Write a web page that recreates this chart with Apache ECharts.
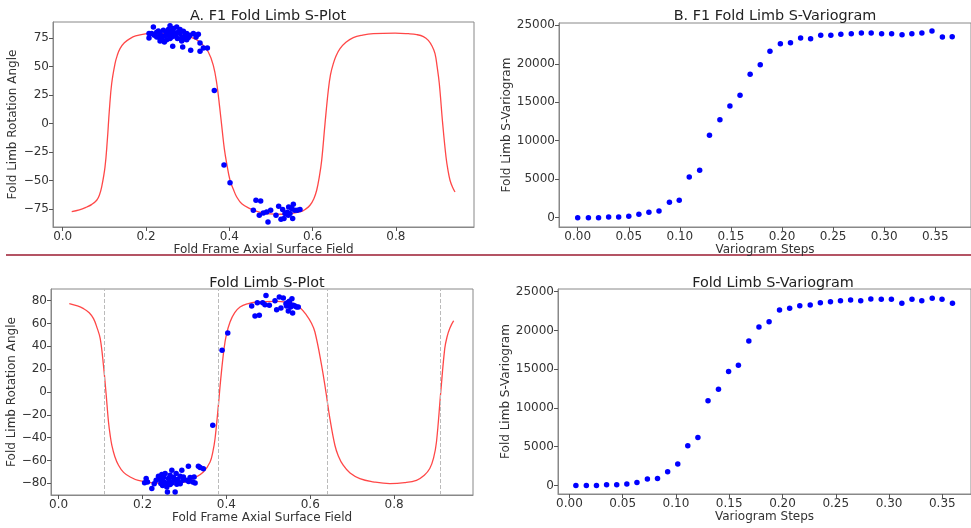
<html>
<head>
<meta charset="utf-8" />
<title>Fold Limb S-Plot</title>
<script src="https://cdn.jsdelivr.net/npm/echarts@6/dist/echarts.min.js"></script>
<style>
  body { margin: 0; background: #fff; }
  #main { width: 971px; height: 528px; }
</style>
</head>
<body>
<div id="main"></div>
<script type="text/javascript">
// A. s-plot (top) : fitted curve + observed points
var topCurve = [[0.0216,-77.3],[0.04,-75.8],[0.0576,-73.3],[0.07,-71],[0.0816,-67.4],[0.088,-63],[0.0936,-55.7],
  [0.1016,-38.1],[0.1071,-14.7],[0.112,11.7],[0.1176,35.2],[0.1256,52.7],[0.131,60],[0.1376,65.9],[0.148,71],
  [0.1616,74.7],[0.175,77],[0.2016,79.1],[0.23,79.6],[0.2656,78.8],[0.3056,76.1],[0.32,74],[0.3337,70.3],
  [0.3496,62.9],[0.3616,51.2],[0.370,35],[0.377,14],[0.383,-6],[0.388,-22],[0.3937,-35],[0.4017,-49.8],[0.41,-58],
  [0.4178,-64.5],[0.43,-70.5],[0.4497,-74.7],[0.47,-77.5],[0.4898,-79.1],[0.5297,-79.7],[0.5697,-77.7],[0.584,-75],
  [0.5937,-71.8],[0.603,-66],[0.6098,-58.6],[0.616,-47],[0.6218,-32.3],[0.6298,0],[0.6377,29.3],[0.643,43],
  [0.6497,52.7],[0.657,60],[0.6658,65.9],[0.68,71.5],[0.6977,75.6],[0.72,77.8],[0.7457,79.1],[0.798,79.6],[0.83,79],
  [0.85,78.2],[0.866,76.5],[0.8778,73.2],[0.887,68],[0.8939,61.5],[0.899,50],[0.9042,35.2],[0.9123,0],[0.9203,-29.4],
  [0.925,-41],[0.9299,-49.8],[0.936,-56],[0.9419,-60.1]];
var topPoints = [[0.2177,84.9],[0.2072,79.1],[0.2072,75.3],[0.2297,81.4],[0.2337,79.1],[0.2417,76.7],[0.2377,73.8],
  [0.2473,77.6],[0.2497,80.5],[0.2537,82.6],[0.2577,86.1],[0.2593,80.5],[0.2657,83.5],[0.2617,76.1],[0.2497,73.8],
  [0.2441,71.7],[0.2337,72.6],[0.2297,76.1],[0.2201,77.6],[0.2737,84.9],[0.2777,80.5],[0.2817,79.1],[0.2857,75.6],
  [0.2753,74.7],[0.2713,76.7],[0.2641,67.9],[0.2897,81.1],[0.2937,77.6],[0.2977,79.1],[0.3017,75.6],[0.2881,67.4],
  [0.3057,77.6],[0.3137,79.1],[0.3217,77.6],[0.3257,78.5],[0.3201,76.1],[0.3073,64.4],[0.3297,70.9],[0.3297,63.5],
  [0.3377,66.5],[0.3473,66.5],[0.2257,80.2],[0.2137,79.1],[0.2537,77.6],[0.2697,79.1],[0.2977,73.8],[0.2577,74.7],
  [0.2857,72.6],[0.2937,74.4],[0.2657,80.5],[0.2417,82.0],[0.2257,76.1],[0.2817,82.6],[0.2617,79.7],
  [0.364,29],[0.3873,-36.4],[0.4017,-51.9],
  [0.464,-67.4],[0.4753,-68.0],[0.4577,-76.2],[0.472,-80.6],[0.4817,-78.5],[0.4897,-77.7],[0.4993,-76.2],[0.4929,-86.4],
  [0.5121,-80.6],[0.5185,-72.7],[0.5241,-84.1],[0.5313,-83.5],[0.5281,-75.6],[0.5393,-77.9],[0.5425,-73.3],[0.5457,-79.1],
  [0.5497,-74.7],[0.5537,-70.9],[0.5521,-83.5],[0.5569,-76.2],[0.5633,-76.2],[0.5697,-75.6],[0.5417,-80.6],[0.5337,-79.1]];

// s-plot (bottom)
var bottomCurve = [[0.0255,77.5],[0.045,75.5],[0.0595,73.1],[0.073,69.5],[0.0833,64.3],[0.092,56],[0.0993,46.8],
  [0.107,23.4],[0.1129,0],[0.119,-26.3],[0.123,-38],[0.127,-46.7],[0.134,-56.5],[0.1429,-64.2],[0.155,-70.5],
  [0.1707,-74.5],[0.19,-77.5],[0.2183,-79.4],[0.2738,-80.3],[0.30,-79],[0.3214,-75.9],[0.3452,-70.1],[0.3612,-61.3],
  [0.368,-52],[0.3731,-40.8],[0.381,-11.7],[0.3867,11.7],[0.3945,38],[0.40,50],[0.4088,61.3],[0.42,69.5],[0.4326,74.5],
  [0.45,77.3],[0.4724,78.9],[0.52,79.5],[0.545,78.7],[0.5595,77.5],[0.577,73.5],[0.5914,67.2],[0.602,61],[0.6112,52.6],
  [0.6271,23.4],[0.6374,0],[0.6469,-23.3],[0.6588,-46.7],[0.667,-56],[0.6786,-64.2],[0.695,-71],[0.7183,-75.9],
  [0.75,-78.7],[0.7898,-80.3],[0.825,-79.5],[0.8533,-77.4],[0.872,-73],[0.885,-67.1],[0.894,-58],[0.901,-43.8],
  [0.9112,0],[0.9207,38],[0.926,48],[0.9326,55.6],[0.9421,62.5]];
var bottomPoints = [[0.2088,-75.9],[0.212,-78.8],[0.2223,-84.7],[0.2326,-77.4],[0.2381,-73.9],[0.2421,-76.8],[0.2461,-72.4],
  [0.25,-75.0],[0.2517,-78.8],[0.254,-71.5],[0.2564,-80.3],[0.2581,-83.2],[0.2619,-75.9],[0.2643,-78.0],[0.2659,-73.0],
  [0.27,-68.6],[0.27,-79.7],[0.2738,-75.0],[0.2755,-77.4],[0.2802,-71.5],[0.2819,-80.9],[0.2833,-76.8],[0.2881,-79.7],
  [0.2898,-73.9],[0.2938,-68.6],[0.2962,-77.4],[0.2976,-74.5],[0.3057,-77.4],[0.3095,-65.1],[0.3136,-75.0],[0.32,-78.8],
  [0.3231,-74.5],[0.3255,-79.7],[0.3333,-65.1],[0.3374,-66.3],[0.3452,-67.2],[0.25,-73.9],[0.2619,-80.3],[0.2779,-87.6],
  [0.2595,-87.6],[0.2438,-80.3],[0.205,-79.5],[0.228,-80.5],[0.248,-82],[0.266,-81],[0.29,-80.5],[0.31,-78.5],
  [0.3676,-29.2],[0.3898,36.5],[0.4033,51.7],
  [0.4604,75.4],[0.4683,66.6],[0.4786,67.2],[0.4739,78.3],[0.4866,78.3],[0.4945,84.7],[0.4921,76.6],[0.5025,76.0],
  [0.516,80.1],[0.5199,72.2],[0.5263,83.3],[0.5302,73.6],[0.5358,82.4],[0.5421,77.4],[0.5453,78.3],[0.5477,71.0],
  [0.5501,79.5],[0.5533,74.5],[0.5564,81.8],[0.558,69.3],[0.5596,76.0],[0.5636,75.4],[0.5675,74.5],[0.5715,74.5],
  [0.5436,75.5],[0.5519,77]];
var bottomHinges = [0.111, 0.383, 0.637, 0.911];

// B. variograms
var topLags = [0.000,0.0105,0.0204,0.0303,0.0401,0.050,0.0599,0.0697,0.0796,0.0898,0.0994,0.1092,0.1194,0.129,0.1392,
  0.149,0.1589,0.1688,0.1787,0.1882,0.1984,0.2083,0.2182,0.228,0.2379,0.2478,0.2576,0.2678,0.2777,0.2873,0.2975,
  0.3073,0.3175,0.3271,0.3369,0.3468,0.357,0.3666];
var topVario = [0,0,0,87,87,173,433,693,867,1993,2253,5286,6153,10703,12739,14516,15902,18632,19888,21621,22618,22748,
  23354,23268,23701,23701,23831,23918,24004,24004,23918,23918,23788,23918,24004,24264,23484,23528];
var bottomLags = [0.0061,0.0159,0.0254,0.0349,0.0444,0.0539,0.0634,0.0732,0.0827,0.0922,0.1017,0.1111,0.1206,0.1301,
  0.1399,0.1494,0.1586,0.1684,0.1779,0.1874,0.1972,0.2067,0.2162,0.226,0.2355,0.245,0.2544,0.2639,0.2734,0.2829,
  0.2927,0.3022,0.312,0.3215,0.3307,0.3405,0.3497,0.3595];
var bottomVario = [0,0,0,86,86,172,387,816,902,1761,2749,5112,6186,10912,12416,14693,15509,18645,20449,21137,22640,
  22855,23199,23285,23586,23715,23844,23930,23844,24059,24016,24016,23500,24016,23844,24145,24016,23500];

var fieldTicks = [0, 0.2, 0.4, 0.6, 0.8];
var lagTicks = [0, 0.05, 0.1, 0.15, 0.2, 0.25, 0.3, 0.35];
var angleTicksA = [-75, -50, -25, 0, 25, 50, 75];
var angleTicksB = [-80, -60, -40, -20, 0, 20, 40, 60, 80];
var varioTicks = [0, 5000, 10000, 15000, 20000, 25000];

var FONT = 'DejaVu Sans';
var TXT = '#333';

function fmt(v, d) {
  return v.toFixed(d).replace('-', '\u2212');
}

function axis(gi, min, max, ticks, digits, name, gap) {
  return {
    type: 'value', gridIndex: gi, min: min, max: max,
    name: name, nameLocation: 'middle', nameGap: gap,
    nameTextStyle: { fontFamily: FONT, fontSize: 12, color: TXT },
    axisLine: { show: true, onZero: false, lineStyle: { color: '#888', width: 1 } },
    axisTick: { show: true, length: 4, customValues: ticks, lineStyle: { color: '#555' } },
    axisLabel: { customValues: ticks, margin: 4, fontFamily: FONT, fontSize: 12, color: TXT,
      formatter: function (v) { return fmt(v, digits); } },
    splitLine: { show: false }
  };
}

function title(text, x, y) {
  return { text: text, left: x, top: y, textAlign: 'center',
    textStyle: { fontFamily: FONT, fontSize: 14.4, fontWeight: 'normal', color: '#222' } };
}

var dot = { type: 'scatter', symbol: 'circle', symbolSize: 5.5, itemStyle: { color: '#0000ff', opacity: 1 }, z: 3 };
var redLine = { type: 'line', showSymbol: false, smooth: 0.4,
  lineStyle: { color: 'rgba(255,0,0,0.72)', width: 1.3 }, z: 2 };

var chart = echarts.init(document.getElementById('main'));
var gridStyle = { show: true, borderColor: '#888', borderWidth: 1 };

chart.setOption({
  animation: false,
  backgroundColor: '#fff',
  title: [
    title('A. F1 Fold Limb S-Plot', 263, 4),
    title('B. F1 Fold Limb S-Variogram', 770, 4),
    title('Fold Limb S-Plot', 262, 271),
    title('Fold Limb S-Variogram', 768, 271)
  ],
  grid: [
    Object.assign({ left: 53, top: 22, width: 421, height: 205 }, gridStyle),
    Object.assign({ left: 559, top: 23, width: 422, height: 204 }, gridStyle),
    Object.assign({ left: 51, top: 289, width: 422, height: 206 }, gridStyle),
    Object.assign({ left: 558, top: 289, width: 422, height: 205 }, gridStyle)
  ],
  xAxis: [
    axis(0, -0.0233, 0.9875, fieldTicks, 1, 'Fold Frame Axial Surface Field', 15),
    axis(1, -0.0183, 0.385, lagTicks, 2, 'Variogram Steps', 15),
    axis(2, -0.0181, 0.9881, fieldTicks, 1, 'Fold Frame Axial Surface Field', 14),
    axis(3, -0.0107, 0.3769, lagTicks, 2, 'Variogram Steps', 15)
  ],
  yAxis: [
    axis(0, -90.9, 89.3, angleTicksA, 0, 'Fold Limb Rotation Angle', 34),
    axis(1, -1215, 25300, varioTicks, 0, 'Fold Limb S-Variogram', 45),
    axis(2, -90.3, 90.3, angleTicksB, 0, 'Fold Limb Rotation Angle', 31),
    axis(3, -1108, 25348, varioTicks, 0, 'Fold Limb S-Variogram', 43)
  ],
  series: [
    Object.assign({}, redLine, { xAxisIndex: 0, yAxisIndex: 0, data: topCurve }),
    Object.assign({}, dot, { xAxisIndex: 0, yAxisIndex: 0, data: topPoints }),
    Object.assign({}, dot, { xAxisIndex: 1, yAxisIndex: 1, data: topLags.map(function (x, i) { return [x, topVario[i]]; }) }),
    Object.assign({}, redLine, { xAxisIndex: 2, yAxisIndex: 2, data: bottomCurve,
      markLine: { silent: true, symbol: ['none', 'none'], label: { show: false },
        lineStyle: { type: 'dashed', color: '#bbb', width: 1 },
        data: bottomHinges.map(function (v) { return { xAxis: v }; }) } }),
    Object.assign({}, dot, { xAxisIndex: 2, yAxisIndex: 2, data: bottomPoints }),
    Object.assign({}, dot, { xAxisIndex: 3, yAxisIndex: 3, data: bottomLags.map(function (x, i) { return [x, bottomVario[i]]; }) })
  ],
  graphic: [{
    type: 'line', silent: true,
    shape: { x1: 6, y1: 255, x2: 971, y2: 255 },
    style: { stroke: '#9b1b30', lineWidth: 1.5 }
  }]
});
</script>
</body>
</html>
